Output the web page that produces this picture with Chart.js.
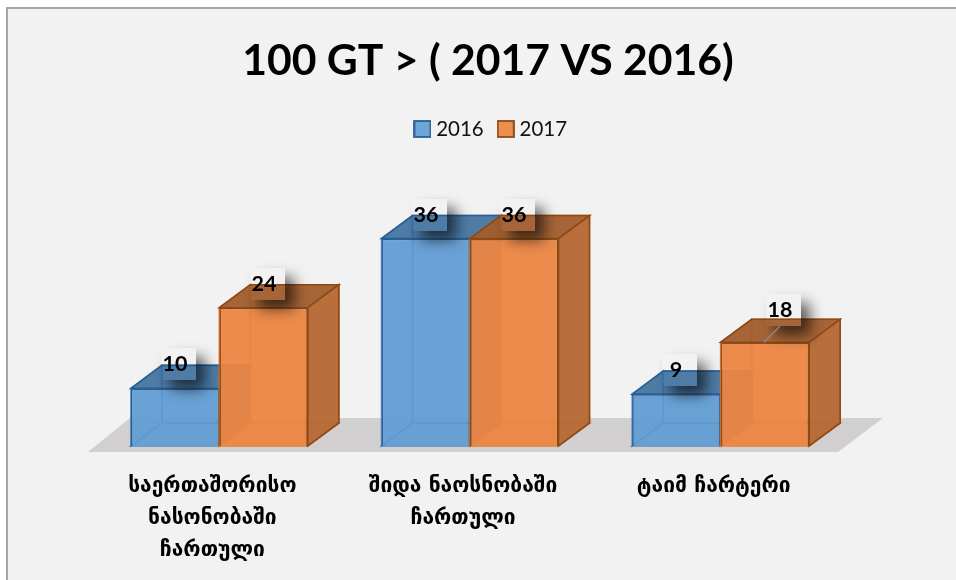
<!DOCTYPE html>
<html>
<head>
<meta charset="utf-8">
<style>html,body{margin:0;padding:0;background:#fff}canvas{display:block}</style>
<script src="https://cdn.jsdelivr.net/npm/chart.js@4"></script>
</head>
<body>
<canvas id="chart" width="956" height="580"></canvas>
<script>
var titleText = '100 GT > ( 2017 VS 2016)';
var categories = [
  ['საერთაშორისო', 'ნასონობაში', 'ჩართული'],
  ['შიდა ნაოსნობაში', 'ჩართული'],
  ['ტაიმ ჩარტერი']
];
var seriesNames = ['2016', '2017'];
var values2016 = [10, 36, 9];
var values2017 = [24, 36, 18];

// depth of the fake 3d boxes
var DX = 31, DY = -23;

var frontColors = ['rgba(96,156,212,0.9)', 'rgba(236,134,66,0.92)'];
var lineColors = ['#2a5f92', '#8c4a16'];
var faces = [
  { back: 'rgba(91,155,213,0.3)', top: 'rgba(58,108,155,0.86)', side: 'rgba(60,115,170,0.8)', inner: 'rgba(60,125,190,0.8)' },
  { back: 'rgba(237,125,49,0.3)', top: 'rgba(160,92,45,0.92)', side: 'rgba(182,106,54,0.96)', inner: 'rgba(225,115,40,0.9)' }
];

function poly(ctx, pts, fill, stroke) {
  ctx.beginPath();
  pts.forEach(function (p, i) { i ? ctx.lineTo(p[0], p[1]) : ctx.moveTo(p[0], p[1]); });
  ctx.closePath();
  ctx.fillStyle = fill;
  ctx.fill();
  ctx.lineWidth = 1.6;
  ctx.strokeStyle = stroke;
  ctx.stroke();
}

// legend swatch on a small canvas, so it can sit closer to its text
function legendIcon(i) {
  var cv = document.createElement('canvas');
  cv.width = 18;
  cv.height = 18;
  var c = cv.getContext('2d');
  c.fillStyle = frontColors[i];
  c.fillRect(1, 1, 16, 16);
  c.strokeStyle = lineColors[i];
  c.lineWidth = 1.8;
  c.strokeRect(1, 1, 16, 16);
  return cv;
}

function drawSides(c, meta, f) {
  meta.data.forEach(function (bar) {
    var l = bar.x - bar.width / 2, r = bar.x + bar.width / 2, t = bar.y, g = bar.base;
    poly(c, [[l + DX, g + DY], [r + DX, g + DY], [r + DX, t + DY], [l + DX, t + DY]], f.back, f.inner);
    poly(c, [[l, g], [r, g], [r + DX, g + DY], [l + DX, g + DY]], f.back, f.inner);
    poly(c, [[l, g], [l + DX, g + DY], [l + DX, t + DY], [l, t]], f.back, f.inner);
    poly(c, [[l, t], [r, t], [r + DX, t + DY], [l + DX, t + DY]], f.top, f.line);
    poly(c, [[r, t], [r + DX, t + DY], [r + DX, g + DY], [r, g]], f.side, f.line);
  });
}

function drawLabels(chart) {
  var c = chart.ctx;
  chart.data.datasets.forEach(function (ds, i) {
    chart.getDatasetMeta(i).data.forEach(function (bar, j) {
      var moved = i === 1 && j === 2; // the 18 label was dragged off its bar
      var x = Math.round(bar.x + (moved ? 15 : 0)), y = Math.round(bar.y - (moved ? 33 : 25));
      c.save();
      // stray shadow block behind each label, the block itself is off canvas
      c.beginPath();
      c.rect(0, 0, 956, 580);
      c.rect(x - 14, y - 15, 35, 32);
      c.clip('evenodd');
      c.shadowColor = 'rgba(0,0,0,0.62)';
      c.shadowBlur = 14;
      c.shadowOffsetX = 2009;
      c.shadowOffsetY = 9;
      c.fillStyle = '#000';
      c.fillRect(x - 14 - 2000, y - 15, 35, 32);
      c.restore();
      c.save();
      if (moved) {
        c.beginPath();
        c.moveTo(bar.x - 1, bar.y);
        c.lineTo(bar.x + 15, bar.y - 16);
        c.strokeStyle = '#8a8f94';
        c.lineWidth = 1.2;
        c.stroke();
      }
      c.fillStyle = '#000';
      c.font = 'bold 21.5px Lato';
      c.textAlign = 'center';
      c.textBaseline = 'middle';
      c.fillText(ds.data[j], x, y + 1);
      c.restore();
    });
  });
}

var box3d = {
  id: 'box3d',
  afterLayout: function (chart) {
    chart.legend.left += 5;
    chart.legend.right += 5;
  },
  beforeDraw: function (chart) {
    var c = chart.ctx;
    c.save();
    c.fillStyle = '#ffffff';
    c.fillRect(0, 0, 956, 580);
    c.fillStyle = '#a6a6a6';
    c.fillRect(6, 7, 950, 573);
    c.fillStyle = '#f2f2f2';
    c.fillRect(8, 9, 948, 571);
    c.restore();
  },
  // 2017 has to sit on top of 2016, so the datasets are drawn here in order
  beforeDatasetsDraw: function (chart) {
    var c = chart.ctx, b = chart.chartArea.bottom;
    c.save();
    c.beginPath();
    c.moveTo(88, b + 6);
    c.lineTo(130, b - 28);
    c.lineTo(883, b - 28);
    c.lineTo(838, b + 6);
    c.closePath();
    c.fillStyle = '#d1cfcf';
    c.fill();
    chart.data.datasets.forEach(function (ds, i) {
      var meta = chart.getDatasetMeta(i);
      var f = faces[i];
      f.line = lineColors[i];
      drawSides(c, meta, f);
      meta.controller.draw();
    });
    c.restore();
    drawLabels(chart);
    return false;
  }
};

var chart = new Chart(document.getElementById('chart').getContext('2d'), {
  type: 'bar',
  data: {
    labels: categories,
    datasets: [
      { label: seriesNames[0], data: values2016, backgroundColor: frontColors[0], borderColor: lineColors[0], borderWidth: 1.6, barPercentage: 1, categoryPercentage: 0.706 },
      { label: seriesNames[1], data: values2017, backgroundColor: frontColors[1], borderColor: lineColors[1], borderWidth: 1.6, barPercentage: 1, categoryPercentage: 0.706 }
    ]
  },
  options: {
    responsive: false,
    animation: false,
    layout: { padding: { left: 20 } },
    scales: {
      x: {
        grid: { display: false },
        border: { display: false },
        ticks: {
          color: '#000',
          padding: 17,
          labelOffset: -7,
          maxRotation: 0,
          autoSkip: false,
          font: { family: "'DejaVu Sans'", size: 21, weight: 'bold', lineHeight: 1.52 }
        },
        afterFit: function (s) { s.height = 134; }
      },
      y: {
        min: 0,
        max: 51.5,
        grid: { display: false },
        border: { display: false },
        ticks: { display: false },
        afterFit: function (s) { s.width = 74; }
      },
      yRight: {
        position: 'right',
        grid: { display: false },
        border: { display: false },
        ticks: { display: false },
        afterFit: function (s) { s.width = 110; }
      }
    },
    plugins: {
      tooltip: { enabled: false },
      title: {
        display: true,
        text: titleText,
        color: '#000',
        font: { family: 'Lato', size: 42.7, weight: 'bold', lineHeight: 1.2 },
        padding: { top: 36, bottom: 13 }
      },
      legend: {
        position: 'top',
        labels: {
          color: '#111',
          usePointStyle: true,
          pointStyleWidth: 7,
          boxHeight: 16,
          padding: 18.5,
          font: { family: 'Lato', size: 20.5 },
          generateLabels: function (chart) {
            return Chart.defaults.plugins.legend.labels.generateLabels(chart).map(function (item) {
              item.pointStyle = legendIcon(item.datasetIndex);
              return item;
            });
          }
        }
      }
    }
  },
  plugins: [box3d]
});
</script>
</body>
</html>
